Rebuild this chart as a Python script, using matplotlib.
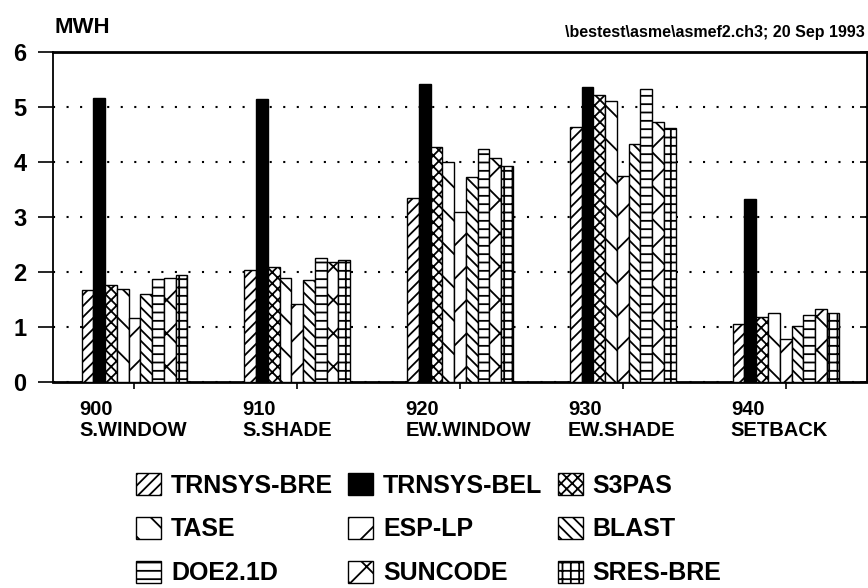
import matplotlib
matplotlib.use("Agg")
import matplotlib.pyplot as plt
import numpy as np

# cases on the x axis
cases = ["900\nS.WINDOW", "910\nS.SHADE", "920\nEW.WINDOW", "930\nEW.SHADE", "940\nSETBACK"]

# annual heating load, MWH, one list per program
trnsys_bre = [1.68, 2.03, 3.35, 4.63, 1.05]
trnsys_bel = [5.17, 5.15, 5.42, 5.37, 3.32]
s3pas = [1.77, 2.10, 4.27, 5.22, 1.19]
tase = [1.69, 1.89, 4.00, 5.11, 1.25]
esp_lp = [1.16, 1.42, 3.09, 3.75, 0.78]
blast = [1.60, 1.86, 3.73, 4.33, 1.01]
doe21d = [1.88, 2.25, 4.24, 5.32, 1.22]
suncode = [1.90, 2.18, 4.07, 4.73, 1.32]
sres_bre = [1.95, 2.21, 3.93, 4.62, 1.26]

programs = ["TRNSYS-BRE", "TRNSYS-BEL", "S3PAS", "TASE", "ESP-LP",
            "BLAST", "DOE2.1D", "SUNCODE", "SRES-BRE"]
series = [trnsys_bre, trnsys_bel, s3pas, tase, esp_lp,
          blast, doe21d, suncode, sres_bre]

hatches = ["///", None, "xxx", "\\", "/", "\\\\\\", "--", "x", "++"]

plt.rcParams["font.family"] = ["Liberation Sans", "DejaVu Sans"]
plt.rcParams["font.weight"] = "bold"
plt.rcParams["hatch.linewidth"] = 1.3

fig = plt.figure(figsize=(8.68, 5.88), dpi=100)
ax = fig.add_axes([0.0611, 0.3503, 0.9378, 0.5612])

x = np.arange(len(cases))
width = 0.65 / len(programs)

handles = []
for i, (name, vals) in enumerate(zip(programs, series)):
    offset = (i - (len(programs) - 1) / 2) * width
    if hatches[i] is None:
        bars = ax.bar(x + offset, vals, width, color="black",
                      edgecolor="black", linewidth=1, label=name, zorder=3)
    else:
        bars = ax.bar(x + offset, vals, width, color="white", hatch=hatches[i],
                      edgecolor="black", linewidth=1, label=name, zorder=3)
    handles.append(bars)

ax.set_xlim(-0.5, len(cases) - 0.5)
ax.set_ylim(0, 6)
ax.set_yticks(range(0, 7))
ax.tick_params(axis="y", direction="out", length=11, width=1.2,
               pad=8, labelsize=17)
ax.set_xticks(x)
ax.set_xticklabels([])
ax.tick_params(axis="x", direction="out", length=5, width=1.2)

for lbl in ax.get_yticklabels():
    lbl.set_fontweight("bold")

# inward ticks on the right side
sec = ax.secondary_yaxis("right")
sec.set_yticks(range(0, 7))
sec.tick_params(direction="in", length=5, width=1.2, labelright=False)

ax.yaxis.grid(True, linestyle=(0, (1, 5.5)), linewidth=1.5, color="black")
ax.set_axisbelow(True)

for side in ["top", "bottom"]:
    ax.spines[side].set_linewidth(2)
ax.spines["left"].set_linewidth(1.3)
ax.spines["right"].set_linewidth(1.3)

for xi, lab in zip(x, cases):
    ax.text(xi - 0.337, -0.055, lab, transform=ax.get_xaxis_transform(),
            ha="left", va="top", fontsize=14.5, fontweight="bold",
            linespacing=1.1)

fig.text(55 / 868, 1 - 33 / 588, "MWH", fontsize=16, fontweight="bold",
         ha="left", va="baseline")
fig.text(865 / 868, 1 - 37 / 588, "\\bestest\\asme\\asmef2.ch3; 20 Sep 1993",
         fontsize=11.5, fontweight="bold", ha="right", va="baseline")

# legend filled row by row
order = [0, 3, 6, 1, 4, 7, 2, 5, 8]
fig.legend([handles[i] for i in order], [programs[i] for i in order],
           ncol=3, loc="upper left", bbox_to_anchor=(136 / 868, 1 - 473 / 588),
           frameon=False, borderpad=0, borderaxespad=0,
           handlelength=1.0, handleheight=1.0,
           handletextpad=0.4, columnspacing=0.6, labelspacing=0.76,
           prop={"weight": "bold", "size": 18})

fig.savefig("out.png", dpi=100)
